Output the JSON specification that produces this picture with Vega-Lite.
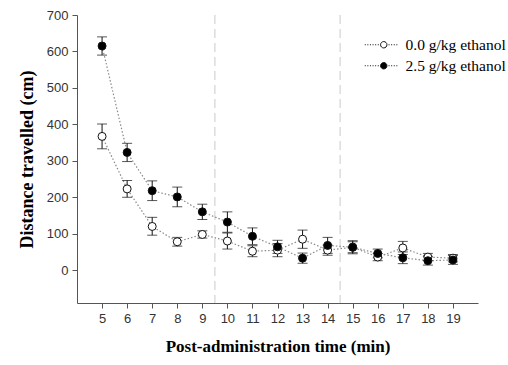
{
  "$schema": "https://vega.github.io/schema/vega-lite/v6.json",
  "width": 401,
  "height": 288,
  "autosize": {"type": "none"},
  "padding": {"left": 77, "top": 15, "right": 30, "bottom": 62},
  "background": "white",
  "config": {
    "view": {"stroke": null},
    "axis": {
      "grid": false,
      "domainColor": "#555",
      "tickColor": "#555",
      "tickSize": 5,
      "labelColor": "#333",
      "labelFont": "Liberation Sans",
      "labelFontSize": 13,
      "labelPadding": 4,
      "labelOverlap": false,
      "labelFlush": false,
      "titleFont": "Liberation Serif",
      "titleFontWeight": "bold",
      "titleFontSize": 17,
      "titleColor": "black"
    }
  },
  "datasets": {
    "pts": [
      {"time": 5, "group": "0.0 g/kg ethanol", "mean": 367, "lo": 333, "hi": 401},
      {"time": 6, "group": "0.0 g/kg ethanol", "mean": 223, "lo": 200, "hi": 246},
      {"time": 7, "group": "0.0 g/kg ethanol", "mean": 120, "lo": 96, "hi": 145},
      {"time": 8, "group": "0.0 g/kg ethanol", "mean": 78, "lo": 66, "hi": 90},
      {"time": 9, "group": "0.0 g/kg ethanol", "mean": 98, "lo": 88, "hi": 108},
      {"time": 10, "group": "0.0 g/kg ethanol", "mean": 80, "lo": 58, "hi": 102},
      {"time": 11, "group": "0.0 g/kg ethanol", "mean": 52, "lo": 37, "hi": 67},
      {"time": 12, "group": "0.0 g/kg ethanol", "mean": 55, "lo": 37, "hi": 73},
      {"time": 13, "group": "0.0 g/kg ethanol", "mean": 85, "lo": 60, "hi": 110},
      {"time": 14, "group": "0.0 g/kg ethanol", "mean": 55, "lo": 41, "hi": 69},
      {"time": 15, "group": "0.0 g/kg ethanol", "mean": 63, "lo": 48, "hi": 78},
      {"time": 16, "group": "0.0 g/kg ethanol", "mean": 36, "lo": 26, "hi": 46},
      {"time": 17, "group": "0.0 g/kg ethanol", "mean": 61, "lo": 43, "hi": 79},
      {"time": 18, "group": "0.0 g/kg ethanol", "mean": 36, "lo": 26, "hi": 46},
      {"time": 19, "group": "0.0 g/kg ethanol", "mean": 33, "lo": 23, "hi": 43},
      {"time": 5, "group": "2.5 g/kg ethanol", "mean": 615, "lo": 590, "hi": 640},
      {"time": 6, "group": "2.5 g/kg ethanol", "mean": 323, "lo": 298, "hi": 348},
      {"time": 7, "group": "2.5 g/kg ethanol", "mean": 218, "lo": 191, "hi": 245},
      {"time": 8, "group": "2.5 g/kg ethanol", "mean": 201, "lo": 174, "hi": 228},
      {"time": 9, "group": "2.5 g/kg ethanol", "mean": 160, "lo": 139, "hi": 181},
      {"time": 10, "group": "2.5 g/kg ethanol", "mean": 132, "lo": 104, "hi": 160},
      {"time": 11, "group": "2.5 g/kg ethanol", "mean": 93, "lo": 70, "hi": 116},
      {"time": 12, "group": "2.5 g/kg ethanol", "mean": 64, "lo": 46, "hi": 82},
      {"time": 13, "group": "2.5 g/kg ethanol", "mean": 33, "lo": 19, "hi": 47},
      {"time": 14, "group": "2.5 g/kg ethanol", "mean": 68, "lo": 46, "hi": 90},
      {"time": 15, "group": "2.5 g/kg ethanol", "mean": 63, "lo": 45, "hi": 81},
      {"time": 16, "group": "2.5 g/kg ethanol", "mean": 46, "lo": 34, "hi": 58},
      {"time": 17, "group": "2.5 g/kg ethanol", "mean": 34, "lo": 18, "hi": 50},
      {"time": 18, "group": "2.5 g/kg ethanol", "mean": 26, "lo": 14, "hi": 38},
      {"time": 19, "group": "2.5 g/kg ethanol", "mean": 28, "lo": 16, "hi": 40}
    ],
    "vlines": [{"time": 9.5}, {"time": 14.5}]
  },
  "encoding": {
    "x": {"field": "time", "type": "quantitative", "scale": {"domain": [4, 20], "nice": false},
      "axis": {"values": [5,6,7,8,9,10,11,12,13,14,15,16,17,18,19], "labelOverlap": false, "title": "Post-administration time (min)", "titlePadding": 13}}
  },
  "layer": [
    {
      "data": {"name": "vlines"},
      "mark": {"type": "rule", "color": "#dcdcdc", "strokeWidth": 1.5, "strokeDash": [9, 5]}
    },
    {
      "data": {"name": "pts"},
      "mark": {"type": "line", "color": "#888", "strokeWidth": 1.2, "strokeDash": [1.5, 2]},
      "encoding": {
        "y": {"field": "mean", "type": "quantitative", "scale": {"domain": [-90, 700], "nice": false},
          "axis": {"values": [0,100,200,300,400,500,600,700], "title": "Distance travelled (cm)", "titlePadding": 10, "titleFontSize": 18}},
        "detail": {"field": "group"}
      }
    },
    {
      "data": {"name": "pts"},
      "mark": {"type": "errorbar", "ticks": {"size": 10, "color": "#111"}, "rule": {"color": "#111"}, "thickness": 1},
      "encoding": {
        "y": {"field": "lo", "type": "quantitative", "title": "Distance travelled (cm)"},
        "y2": {"field": "hi"}
      }
    },
    {
      "data": {"name": "pts"},
      "mark": {"type": "point", "shape": "circle", "filled": true, "size": 64, "stroke": "#111", "strokeWidth": 1, "opacity": 1},
      "encoding": {
        "y": {"field": "mean", "type": "quantitative"},
        "fill": {"field": "group", "type": "nominal",
          "scale": {"domain": ["0.0 g/kg ethanol", "2.5 g/kg ethanol"], "range": ["white", "black"]},
          "legend": {
            "title": null, "orient": "none", "legendX": 299, "legendY": 22, "padding": 0,
            "symbolType": "M-4.75,0h0.25M-4.1,0h0.25M-3.45,0h0.25M-2.8,0h0.25M-2.15,0h0.25M-1.5,0h0.25M1.2,0h0.25M1.85,0h0.25M2.5,0h0.25M3.15,0h0.25M0.8,0A0.8,0.8,0,1,1,-0.8,0A0.8,0.8,0,1,1,0.8,0Z",
            "symbolSize": 64, "symbolStrokeColor": "#111", "symbolStrokeWidth": 1,
            "labelFont": "Liberation Serif", "labelFontSize": 15.5, "labelColor": "black", "labelOffset": 14, "rowPadding": 4
          }}
      }
    }
  ]
}
